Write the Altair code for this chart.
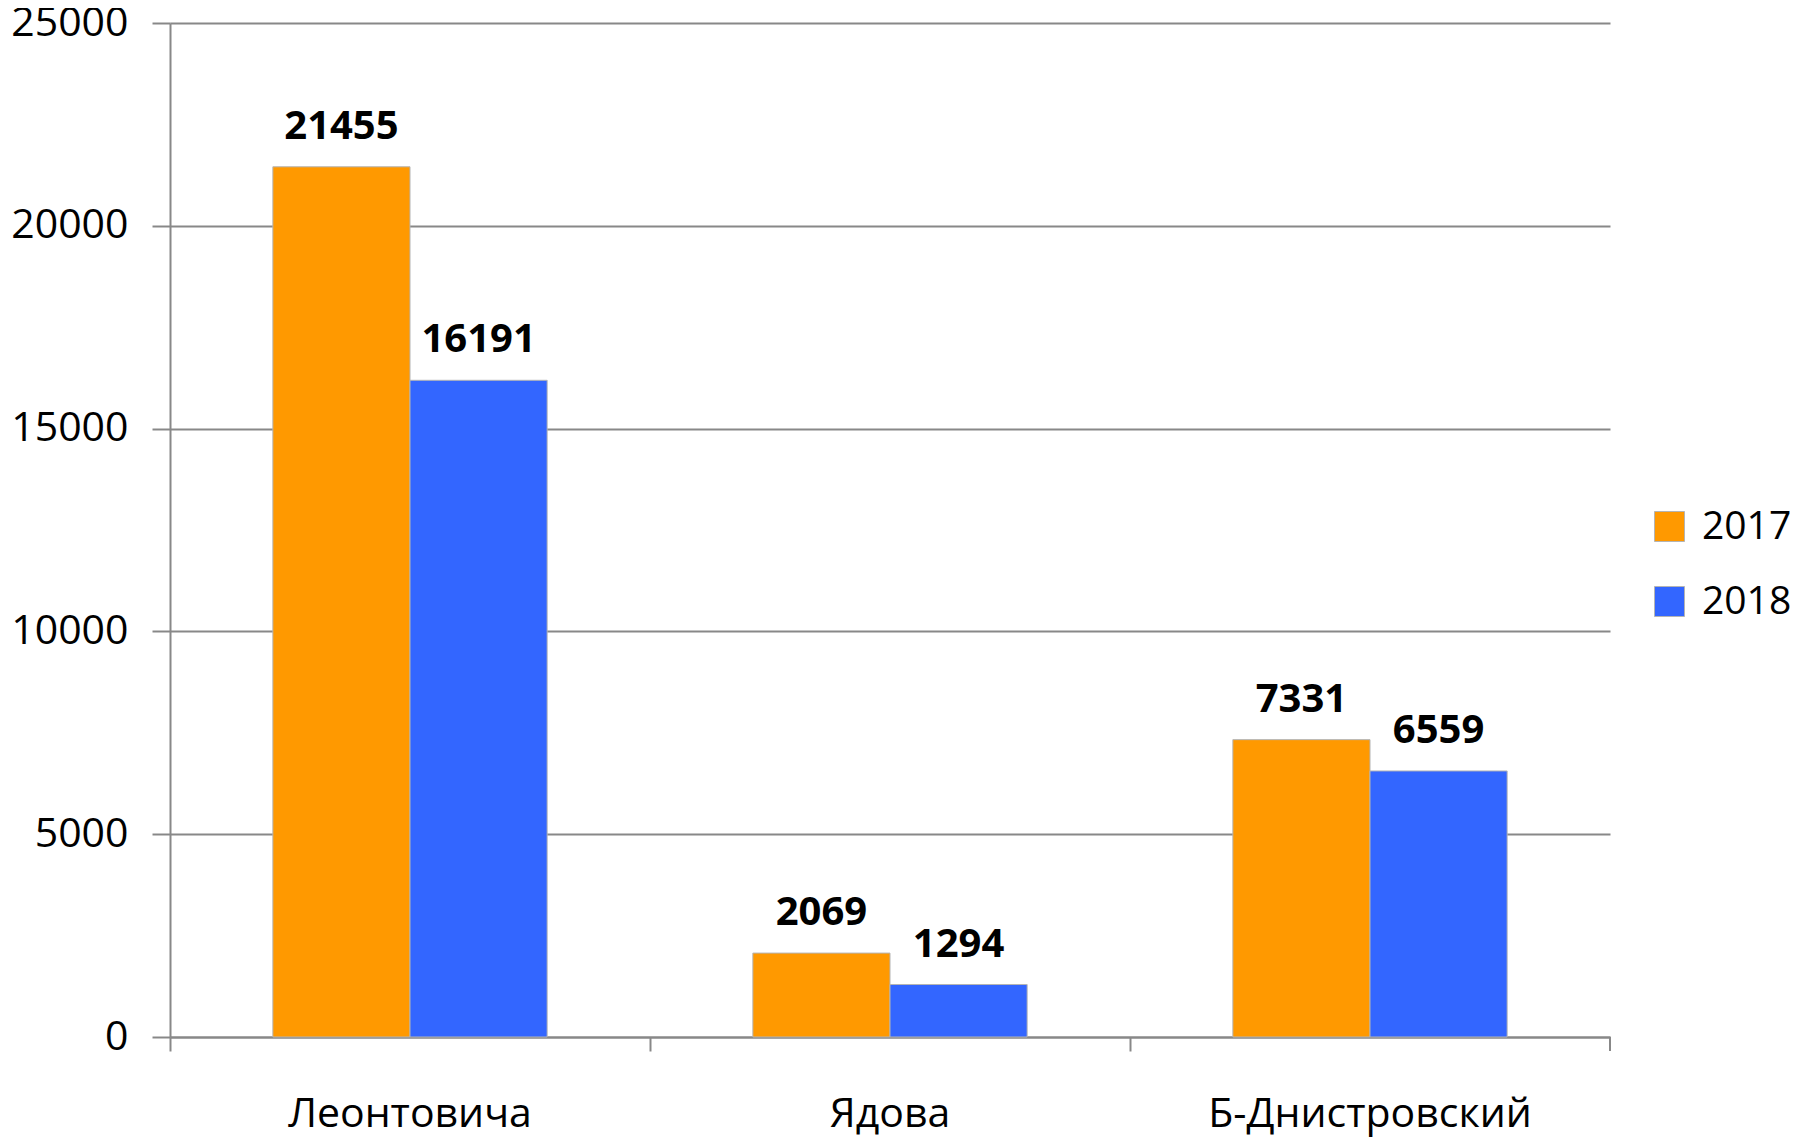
import altair as alt
import pandas as pd

categories = ["Леонтовича", "Ядова", "Б-Днистровский"]
years = ["2017", "2018"]
values_2017 = [21455, 2069, 7331]
values_2018 = [16191, 1294, 6559]
y_ticks = [0, 5000, 10000, 15000, 20000, 25000]
colors = ["#FF9900", "#3366FF"]

rows = []
for i, c in enumerate(categories):
    rows.append({"district": c, "year": years[0], "value": values_2017[i]})
    rows.append({"district": c, "year": years[1], "value": values_2018[i]})
df = pd.DataFrame(rows)

GRID = "#888888"
FONT = "Open Sans"
W, H = 1440, 1014

x_enc = alt.X(
    "district:N",
    sort=categories,
    scale=alt.Scale(paddingInner=0, paddingOuter=0),
    axis=alt.Axis(
        title=None, labelAngle=0, bandPosition=0, ticks=True, tickSize=14,
        tickColor=GRID, tickWidth=2, domainColor=GRID, domainWidth=2,
        labelFont=FONT, labelFontSize=41, labelColor="black", labelLimit=0,
        labelBaseline="alphabetic", labelPadding=75, grid=False,
    ),
)
y_enc = alt.Y(
    "value:Q",
    scale=alt.Scale(domain=[0, 25000], nice=False),
    axis=alt.Axis(
        title=None, values=y_ticks, format="d", grid=True, gridColor=GRID,
        gridWidth=2, domainColor=GRID, domainWidth=2, tickColor=GRID,
        tickWidth=2, tickSize=18, labelPadding=24, labelFont=FONT,
        labelFontSize=41, labelColor="black", labelLimit=0,
    ),
)
xoff = alt.XOffset("year:N", sort=years, scale=alt.Scale(paddingInner=0, paddingOuter=0.75))

base = alt.Chart(df).encode(x=x_enc, xOffset=xoff, y=y_enc)

bars = base.mark_bar(stroke="#b4b4b4", strokeWidth=1).encode(
    color=alt.Color(
        "year:N",
        scale=alt.Scale(domain=years, range=colors),
        legend=alt.Legend(
            title=None, orient="none", legendX=1480, legendY=484,
            symbolType="square", symbolSize=900, symbolOpacity=1,
            symbolStrokeColor="#b4b4b4", symbolStrokeWidth=1,
            labelFont=FONT, labelFontSize=39, labelColor="black",
            labelOffset=13, rowPadding=35, padding=0,
        ),
    )
)

labels = base.mark_text(
    font=FONT, fontSize=40, fontWeight="bold", baseline="alphabetic",
    dy=-28, color="black",
).encode(text="value:Q")

end_tick = alt.Chart(pd.DataFrame({"district": [categories[-1]]})).mark_rule(
    color=GRID, strokeWidth=2
).encode(
    x=alt.X("district:N", sort=categories, bandPosition=1),
    y=alt.value(H),
    y2=alt.value(H + 14),
)

chart = alt.layer(bars, labels, end_tick).properties(
    width=W,
    height=H,
    autosize=alt.AutoSizeParams(type="none"),
    padding={"left": 162, "top": 15, "right": 183, "bottom": 100},
).configure_view(stroke=None)

chart.save("out.html", embed_options={"renderer": "svg", "actions": False})
